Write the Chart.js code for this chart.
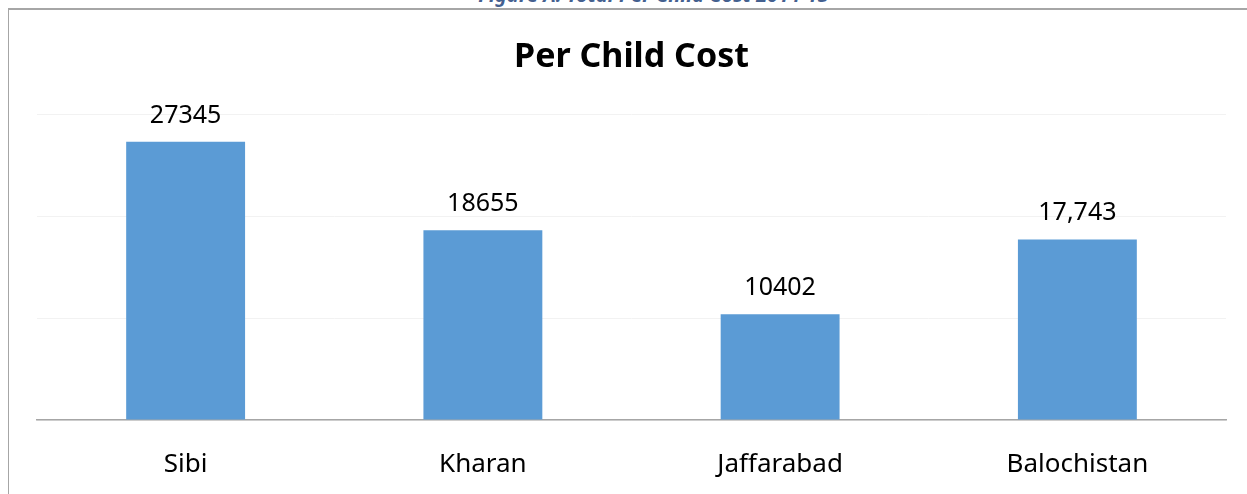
<!DOCTYPE html>
<html>
<head>
<meta charset="utf-8">
<title>Per Child Cost</title>
<script src="https://cdn.jsdelivr.net/npm/chart.js@4/dist/chart.umd.min.js"></script>
<style>
  html, body { margin: 0; padding: 0; background: #fff; overflow: hidden; }
  body { width: 1247px; height: 494px; position: relative; }
  .caption {
    position: absolute; left: 30px; width: 1247px; top: -15px;
    text-align: center; font-family: "Noto Sans", sans-serif;
    font-size: 20px; line-height: 20px; font-weight: bold; font-style: italic;
    color: #44608f; white-space: nowrap;
  }
  .frame {
    position: absolute; left: 8px; top: 8px; width: 1300px; height: 600px;
    border-left: 1px solid #a6a6a6; border-top: 2px solid #a6a6a6;
  }
  .chart-box { position: absolute; left: 0; top: 0; width: 1247px; height: 494px; }
</style>
</head>
<body>
<div class="caption">Figure A: Total Per Child Cost 2014-15</div>
<div class="frame"></div>
<div class="chart-box"><canvas id="costChart"></canvas></div>

<script>
  // chart data
  const districts = ['Sibi', 'Kharan', 'Jaffarabad', 'Balochistan'];
  const perChildCost = [27345, 18655, 10402, 17743];
  const costLabels = ['27345', '18655', '10402', '17,743'];
  const yTicks = [0, 10000, 20000, 30000];

  const barBlue = '#5b9bd5';
  const fontFamily = '"Noto Sans", "Open Sans", sans-serif';

  // value labels over each bar
  const valueLabelsPlugin = {
    id: 'valueLabels',
    afterDatasetsDraw: (chart) => {
      const { ctx } = chart;
      const meta = chart.getDatasetMeta(0);
      ctx.save();
      ctx.font = '25px ' + fontFamily;
      ctx.fillStyle = '#000';
      ctx.textAlign = 'center';
      ctx.textBaseline = 'alphabetic';
      meta.data.forEach((bar, i) => {
        ctx.fillText(costLabels[i], bar.x, bar.y - 19);
      });
      ctx.restore();
    }
  };

  new Chart(document.getElementById('costChart').getContext('2d'), {
    type: 'bar',
    data: {
      labels: districts,
      datasets: [{
        label: 'Per Child Cost',
        data: perChildCost,
        backgroundColor: barBlue,
        borderWidth: 0,
        barPercentage: 0.4,
        categoryPercentage: 1.0
      }]
    },
    options: {
      responsive: true,
      maintainAspectRatio: false,
      animation: false,
      layout: {
        padding: { left: 37, right: 21, top: 0, bottom: 14 }
      },
      plugins: {
        legend: { display: false },
        tooltip: { enabled: false },
        title: {
          display: true,
          text: 'Per Child Cost',
          color: '#000',
          font: { family: fontFamily, size: 34, weight: 'bold', lineHeight: 1.2 },
          padding: { top: 37, bottom: 37 }
        }
      },
      scales: {
        y: {
          min: yTicks[0],
          max: yTicks[yTicks.length - 1],
          afterBuildTicks: (axis) => {
            axis.ticks = yTicks.map(v => ({ value: v }));
          },
          ticks: { display: false },
          grid: { color: '#f2f2f2', lineWidth: 1, drawTicks: false },
          border: { display: false }
        },
        x: {
          afterFit: (axis) => { axis.height = 60; },
          grid: { display: false, drawTicks: false },
          border: { display: true, color: '#a6a6a6', width: 1.5 },
          ticks: {
            color: '#000',
            padding: 29,
            font: { family: fontFamily, size: 26 }
          }
        }
      }
    },
    plugins: [valueLabelsPlugin]
  });
</script>
</body>
</html>
